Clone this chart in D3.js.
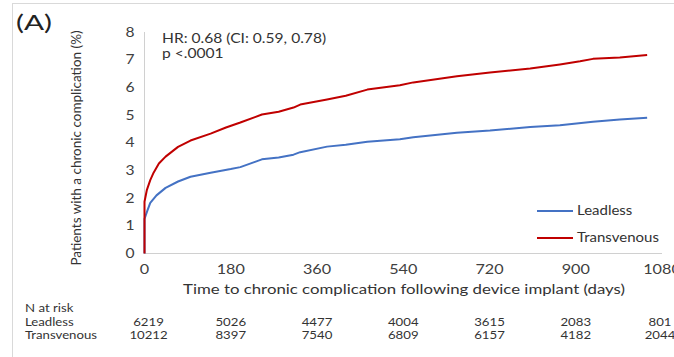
<!DOCTYPE html>
<html><head><meta charset="utf-8">
<script src="https://cdn.jsdelivr.net/npm/d3@7"></script>
<style>
html,body{margin:0;padding:0;background:#fff;}
svg{display:block;font-family:Lato,"Open Sans",sans-serif;}
</style></head>
<body><svg id="chart" width="674" height="357"></svg>
<script>
const xTicks = [0,180,360,540,720,900,1080];
const yTicks = [0,1,2,3,4,5,6,7,8];
const leadlessDays = [0,0,6,12,25,44,70,96,138,180,200,245,280,311,325,381,420,465,533,561,652,721,805,867,936,992,1049];
const leadlessVals = [0,1.25,1.55,1.83,2.1,2.37,2.6,2.77,2.92,3.05,3.12,3.4,3.47,3.57,3.66,3.86,3.93,4.04,4.13,4.2,4.36,4.44,4.57,4.63,4.76,4.84,4.9];
const transDays = [0,0,5,12,19,30,44,70,96,138,170,200,245,280,311,325,381,420,465,533,561,652,721,805,867,909,936,992,1049];
const transVals = [0,1.87,2.3,2.65,2.92,3.25,3.5,3.85,4.08,4.33,4.55,4.73,5.02,5.12,5.27,5.38,5.56,5.7,5.92,6.08,6.18,6.4,6.54,6.68,6.83,6.94,7.03,7.08,7.17];
const riskLabels = ["Leadless","Transvenous"];
const riskLeadless = [6219,5026,4477,4004,3615,2083,801];
const riskTrans = [10212,8397,7540,6809,6157,4182,2044];
const seriesNames = ["Leadless","Transvenous"];
const seriesColors = ["#4472C4","#C00000"];

const svg = d3.select("#chart");
const SX = 1.2; // horizontal stretch of the reference image
function label(px, py, str, size, opts={}) {
  const t = svg.append("text")
    .attr("transform", `translate(${px},${py}) scale(${opts.sx||SX},1)`)
    .attr("dy","0.35em")
    .attr("font-size", size)
    .attr("fill", opts.fill || "#333")
    .attr("text-anchor", opts.anchor || "start")
    .text(str);
  return t;
}
// frame
svg.append("line").attr("x1",12).attr("x2",674).attr("y1",3.5).attr("y2",3.5).attr("stroke","#d9d9d9");
svg.append("line").attr("x1",12.5).attr("x2",12.5).attr("y1",3).attr("y2",357).attr("stroke","#d9d9d9");

const x = d3.scaleLinear().domain([0,1080]).range([144.5,662]);
const y = d3.scaleLinear().domain([0,8]).range([253.5,32]);

// axes lines
svg.append("line").attr("x1",x(0)).attr("x2",x(1080)).attr("y1",y(0)).attr("y2",y(0)).attr("stroke","#d0d0d0");
svg.append("line").attr("x1",x(0)).attr("x2",x(0)).attr("y1",y(0)).attr("y2",y(8)).attr("stroke","#d0d0d0");

// tick labels
yTicks.forEach(d=>label(134.5, y(d), d, 13, {anchor:"end", fill:"#404040"}));
xTicks.forEach(d=>label(x(d), 269, d, 13.5, {anchor:"middle", fill:"#404040"}));

// axis titles
label(404, 289, "Time to chronic complication following device implant (days)", 14, {anchor:"middle"});
svg.append("text").attr("transform","translate(76,148) rotate(-90)").attr("dy","0.35em").attr("text-anchor","middle")
  .attr("font-size",13.5).attr("fill","#333").text("Patients with a chronic complication (%)");

// panel label & stats
label(16, 22, "(A)", 22, {sx:1.35, fill:"#222"});
label(162, 38, "HR: 0.68 (CI: 0.59, 0.78)", 13);
label(162, 53, "p <.0001", 13);

// lines
const line = d3.line().x(d=>x(d[0])).y(d=>y(d[1]));
const series = [d3.zip(leadlessDays,leadlessVals), d3.zip(transDays,transVals)];
series.forEach((s,i)=>{
  svg.append("path").datum(s).attr("d",line).attr("fill","none")
    .attr("stroke",seriesColors[i]).attr("stroke-width",2).attr("stroke-linejoin","round");
});

// legend
const legY = [211,238];
seriesNames.forEach((n,i)=>{
  svg.append("line").attr("x1",537).attr("x2",573).attr("y1",legY[i]).attr("y2",legY[i])
    .attr("stroke",seriesColors[i]).attr("stroke-width",2);
  label(577, legY[i], n, 12.5);
});

// N at risk table
const tfs = 11;
label(25, 308, "N at risk", tfs);
const rows = [riskLeadless, riskTrans];
const rowY = [322,335];
rows.forEach((r,i)=>{
  label(25, rowY[i], riskLabels[i], tfs);
  r.forEach((d,j)=>{
    label(x(xTicks[j]) + (j===0?4:(j===6?-2:0)), rowY[i], d, tfs, {anchor:"middle"});
  });
});
</script></body></html>
